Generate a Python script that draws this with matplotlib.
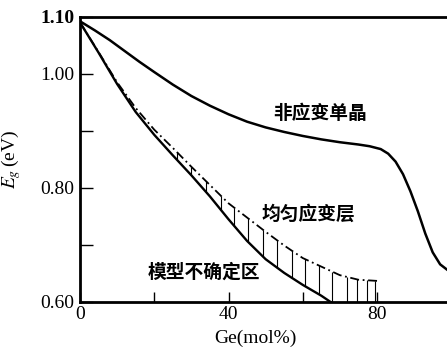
import matplotlib
matplotlib.use('Agg')
import matplotlib.pyplot as plt
import numpy as np

plt.rcParams['font.family'] = ['Liberation Serif', 'DejaVu Serif']
plt.rcParams['mathtext.fontset'] = 'stix'

# 非应变单晶 (unstrained bulk)
ge_bulk = [0, 4, 8, 12, 16, 20, 25, 30, 35, 40, 45, 50, 55, 60, 65, 70, 75, 78,
           81, 83, 85, 87, 89, 91, 93, 95, 97, 99]
eg_bulk = [1.092, 1.076, 1.059, 1.040, 1.021, 1.003, 0.981, 0.961, 0.944, 0.929,
           0.916, 0.906, 0.898, 0.891, 0.885, 0.880, 0.876, 0.873,
           0.868, 0.860, 0.846, 0.824, 0.794, 0.759, 0.720, 0.687, 0.666, 0.656]

# 均匀应变层 (dash-dot)
ge_strain = [0, 5, 10, 15, 20, 25, 30, 35, 40, 45, 50, 55, 60, 65, 70, 75, 80]
eg_strain = [1.090, 1.038, 0.985, 0.940, 0.902, 0.870, 0.837, 0.805, 0.773,
             0.748, 0.723, 0.699, 0.677, 0.662, 0.647, 0.639, 0.637]

# lower solid curve
ge_low = [0, 5, 10, 15, 20, 25, 30, 35, 40, 45, 50, 55, 60, 65, 67.5]
eg_low = [1.090, 1.037, 0.982, 0.933, 0.893, 0.857, 0.822, 0.785, 0.745,
          0.707, 0.675, 0.651, 0.630, 0.611, 0.600]

# 模型不确定区 hatch positions
ge_hatch = [26, 30, 34, 38, 41.5, 45.3, 49.2, 53.1, 57, 60.7, 64.3, 68, 71.8,
            74.7, 77.3, 79.4]

fig = plt.figure(figsize=(4.47, 3.5), dpi=100)
ax = fig.add_axes([80 / 447, 48 / 350, 1 - 80 / 447, 285.3 / 350])

ax.plot(ge_bulk, eg_bulk, color='black', lw=1.8)
ax.plot(ge_low, eg_low, color='black', lw=1.7)
ax.plot(ge_strain, eg_strain, color='black', lw=1.3,
        linestyle=(0, (5, 2, 1, 2)))

h_top = np.interp(ge_hatch, ge_strain, eg_strain)
h_bot = np.interp(ge_hatch, ge_low, eg_low)
ax.vlines(ge_hatch, h_bot, h_top, color='black', lw=0.8)

cjk = ['Noto Sans CJK SC', 'DejaVu Sans']
ax.text(64.7, 0.931, '非应变单晶', family=cjk, fontsize=13.5, weight='bold',
        ha='center', va='center')
ax.text(61.5, 0.754, '均匀应变层', family=cjk, fontsize=13.5, weight='bold',
        ha='center', va='center')
ax.text(33.4, 0.653, '模型不确定区', family=cjk, fontsize=13.5, weight='bold',
        ha='center', va='center')

ax.set_xlim(0, 98.85)
ax.set_ylim(0.60, 1.10)
ax.set_xticks([0, 40, 80])
ax.set_xticks([20, 60], minor=True)
ax.set_yticks([0.60, 0.80, 1.00, 1.10])
ax.set_yticklabels(['0.60', '0.80', '1.00', '1.10'])
ax.set_yticks([0.70, 0.90], minor=True)
ax.get_yticklabels()[-1].set_fontweight('bold')
ax.tick_params(which='both', direction='in', labelsize=14, width=1.0)
ax.tick_params(axis='x', which='both', length=7, pad=3)
ax.tick_params(axis='y', which='both', length=9, pad=4)

for side in ['left', 'bottom', 'top']:
    ax.spines[side].set_linewidth(2.0)
ax.spines['right'].set_visible(False)

ax.set_xlabel('Ge(mol%)', fontsize=14)
ax.xaxis.set_label_coords(0.478, -0.098)
ax.set_ylabel(r'$E_g\,$(eV)', fontsize=14)
ax.yaxis.set_label_coords(-0.155, 0.5)

fig.savefig('out.png', dpi=100)
